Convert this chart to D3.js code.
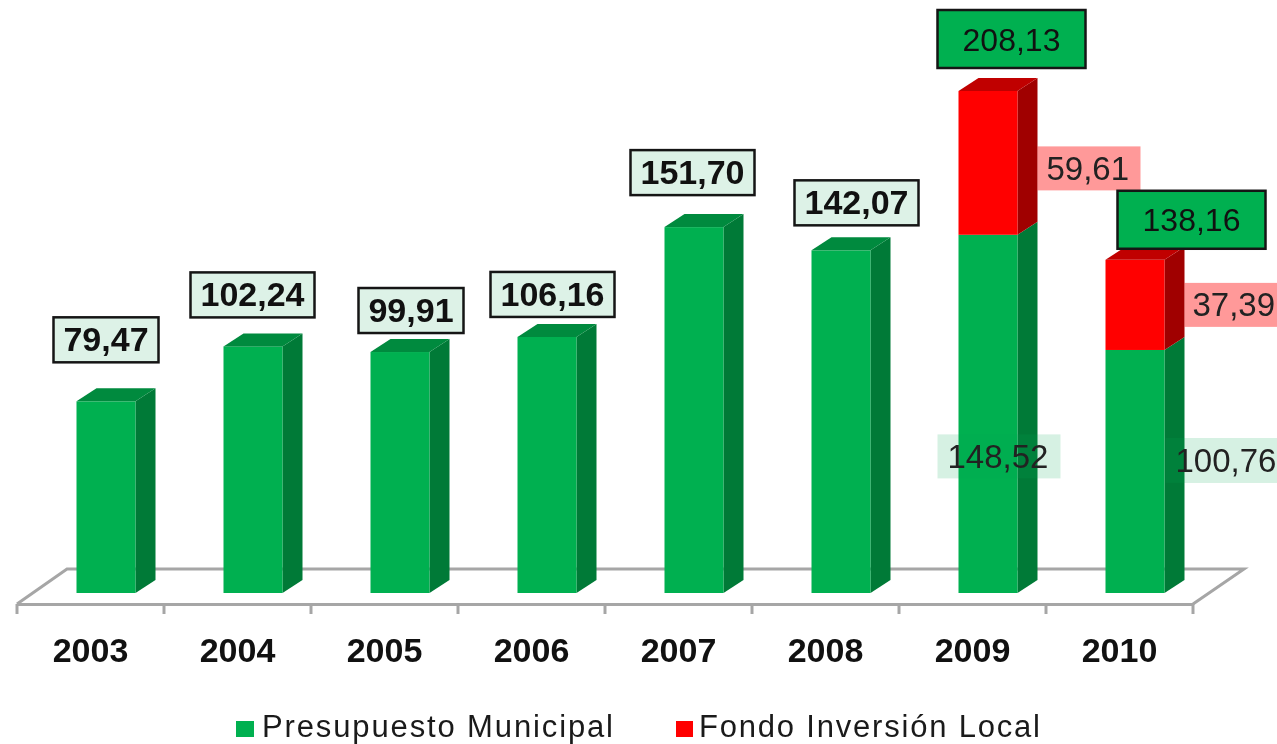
<!DOCTYPE html>
<html>
<head>
<meta charset="utf-8">
<script src="https://cdn.jsdelivr.net/npm/d3@7"></script>
<style>
html,body{margin:0;padding:0;background:#fff;overflow:hidden}
svg{display:block;font-family:"Liberation Sans",Arial,sans-serif;filter:blur(0.5px)}
</style>
</head>
<body>
<svg id="chart" width="1277" height="744"></svg>
<script>
const years = ["2003","2004","2005","2006","2007","2008","2009","2010"];
const presupuesto = [79.47,102.24,99.91,106.16,151.70,142.07,148.52,100.76];
const fondo = [0,0,0,0,0,0,59.61,37.39];
const totals = [79.47,102.24,99.91,106.16,151.70,142.07,208.13,138.16];
const seriesNames = ["Presupuesto Municipal","Fondo Inversión Local"];

// Layout only: label placement relative to the bars
const totalDx = [-23,-33,-12,-27,-34,-17,-21,12];
const totalGap = [39,29,19,20,32,25,23,11];
const segLabels = [
  {yr:"2009", s:1, dx:79, dy:5.5, w:103, h:44, tx:9},
  {yr:"2010", s:1, dx:79, dy:0, w:110, h:44, tx:8},
  {yr:"2009", s:0, dx:-21, dy:42.5, w:123, h:44, tx:10},
  {yr:"2010", s:0, dx:60, dy:-11, w:130, h:45, tx:10}
];

const svg = d3.select("#chart");
const fmt = d3.formatLocale({decimal:",",thousands:".",grouping:[3],currency:["",""]}).format(".2f");

const x = d3.scaleBand().domain(years).range([17,1193]);
const y = d3.scaleLinear().domain([0,208.13]).range([593,91]);
const barW = 59, barOffset = 59.5, depthX = 20, depthY = 13;
const barX = yr => x(yr) + barOffset;

const C = {
  front:["#00B050","#FF0000"],
  side:["#007A37","#A00000"],
  top:["#008A3E","#C00000"],
  axis:"#A6A6A6"
};

// floor
const floorY = 604, backY = 569;
svg.append("path")
  .attr("d", d3.line()([[x.range()[0],floorY],[x.range()[0]+50,backY],[x.range()[1]+51,backY],[x.range()[1],floorY]]))
  .attr("fill","none").attr("stroke",C.axis).attr("stroke-width",3);

// x axis
const axis = svg.append("g").attr("transform",`translate(0,${floorY})`)
  .call(d3.axisBottom(x).tickSize(0).tickFormat(d=>d));
axis.select(".domain").attr("stroke",C.axis).attr("stroke-width",3);
axis.selectAll("text").attr("font-size",34).attr("font-weight","bold").attr("fill","#111")
  .attr("font-family","'Liberation Sans',Arial,sans-serif").attr("dy",null).attr("y",58);
axis.selectAll(".edge").data(d3.range(years.length+1)).enter().append("line").attr("class","edge")
  .attr("x1",i=>17+i*x.step()).attr("x2",i=>17+i*x.step()).attr("y1",0).attr("y2",10)
  .attr("stroke",C.axis).attr("stroke-width",3);

// stacked bars
const rows = years.map((yr,i)=>({yr,0:presupuesto[i],1:fondo[i]}));
const stacked = d3.stack().keys([0,1])(rows);
const g = svg.append("g");
stacked.forEach((ser,s)=>{
  ser.forEach(d=>{
    if(d[1]-d[0] <= 0) return;
    const yr = d.data.yr, l = barX(yr), r = l+barW, t = y(d[1]), b = y(d[0]);
    g.append("path").attr("d",d3.line()([[r,b],[r+depthX,b-depthY],[r+depthX,t-depthY],[r,t]]))
      .attr("fill",C.side[s]);
    g.append("rect").attr("x",l).attr("y",t).attr("width",barW).attr("height",b-t).attr("fill",C.front[s]);
  });
});
years.forEach((yr,i)=>{
  const l = barX(yr), t = y(totals[i]), s = fondo[i] > 0 ? 1 : 0;
  g.append("path").attr("d",d3.line()([[l,t],[l+depthX,t-depthY],[l+barW+depthX,t-depthY],[l+barW,t]]))
    .attr("fill",C.top[s]);
});

// segment labels
segLabels.forEach(d=>{
  const i = years.indexOf(d.yr);
  const v = d.s===0 ? presupuesto[i] : fondo[i];
  const y0 = d.s===0 ? 0 : presupuesto[i];
  const cy = (y(y0)+y(y0+v))/2 + d.dy, bx = barX(d.yr)+d.dx;
  svg.append("rect").attr("x",bx).attr("y",cy-d.h/2).attr("width",d.w).attr("height",d.h)
    .attr("fill",d.s===0 ? "#00A651" : "#FF0000").attr("fill-opacity",d.s===0 ? 0.16 : 0.4);
  svg.append("text").attr("x",bx+d.tx).attr("y",cy+11.5)
    .attr("font-size",33).attr("fill","#222").text(fmt(v));
});

// total labels
years.forEach((yr,i)=>{
  const big = fondo[i] > 0;
  const w = big ? 148 : (totals[i] >= 100 ? 124 : 105), h = big ? 58 : 45;
  const bx = barX(yr)+totalDx[i], by = y(totals[i])-totalGap[i]-h;
  svg.append("rect").attr("x",bx).attr("y",by).attr("width",w).attr("height",h)
    .attr("fill",big ? "#00B050" : "#DDF2E7").attr("stroke","#151515").attr("stroke-width",2.5);
  svg.append("text").attr("x",bx+w/2).attr("y",by+h/2+11.5).attr("text-anchor","middle")
    .attr("font-size",big ? 32 : 34).attr("font-weight",big ? "normal" : "bold")
    .attr("fill","#111").text(fmt(totals[i]));
});

// legend
const legendX = [236,676];
const legendTextX = [262,699];
const legendTextW = [351,341];
seriesNames.forEach((n,i)=>{
  svg.append("rect").attr("x",legendX[i]).attr("y",721).attr("width",i?17:18).attr("height",16).attr("fill",C.front[i]);
  svg.append("text").attr("x",legendTextX[i]).attr("y",737).attr("font-size",31).attr("fill","#1a1a1a")
    .attr("textLength",legendTextW[i]).attr("lengthAdjust","spacing").text(n);
});
</script>
</body>
</html>
